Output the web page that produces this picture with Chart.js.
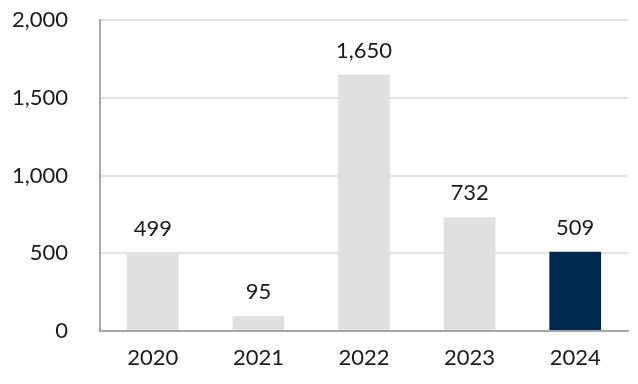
<!DOCTYPE html>
<html>
<head>
<meta charset="utf-8">
<script src="https://cdn.jsdelivr.net/npm/chart.js@4"></script>
<style>
html,body{margin:0;padding:0;background:#fff;}
#wrap{width:638px;height:384px;position:relative;}
</style>
</head>
<body>
<div id="wrap"><canvas id="c" width="638" height="384"></canvas></div>
<script>
const categories = ["2020", "2021", "2022", "2023", "2024"];
const values = [499, 95, 1650, 732, 509];
const barColors = ["#e0e0e0", "#e0e0e0", "#e0e0e0", "#e0e0e0", "#002a4d"];
const yTicks = [0, 500, 1000, 1500, 2000];

const FONT = "Lato, 'Noto Sans', sans-serif";

const labelPlugin = {
  id: 'valueLabels',
  afterDatasetsDraw(chart) {
    const ctx = chart.ctx;
    const meta = chart.getDatasetMeta(0);
    ctx.save();
    ctx.font = "22px " + FONT;
    ctx.fillStyle = "#1a1a1a";
    ctx.textAlign = "center";
    ctx.textBaseline = "middle";
    meta.data.forEach((bar, i) => {
      const v = chart.data.datasets[0].data[i];
      ctx.fillText(v.toLocaleString('en-US'), bar.x, bar.y - 24);
    });
    ctx.restore();
  }
};

new Chart(document.getElementById('c'), {
  type: 'bar',
  data: {
    labels: categories,
    datasets: [{
      data: values,
      backgroundColor: barColors,
      borderWidth: 0,
      categoryPercentage: 1,
      barPercentage: 0.49
    }]
  },
  options: {
    responsive: false,
    animation: false,
    devicePixelRatio: 1,
    layout: { padding: { left: 0, right: 10, top: 20, bottom: 0 } },
    plugins: { legend: { display: false }, tooltip: { enabled: false } },
    scales: {
      x: {
        afterFit(axis) { axis.height = 53; axis.paddingLeft = 0; axis.paddingRight = 0; },
        grid: { display: false, drawTicks: false },
        border: { display: true, color: "#a6a6a6", width: 2 },
        ticks: { color: "#1a1a1a", font: { size: 22, family: FONT }, padding: 14, maxRotation: 0 }
      },
      y: {
        min: yTicks[0],
        max: yTicks[yTicks.length - 1],
        afterFit(axis) { axis.width = 100; axis.paddingTop = 0; axis.paddingBottom = 0; },
        afterBuildTicks(axis) { axis.ticks = yTicks.map(v => ({ value: v })); },
        grid: { color: "#e3e3e3", lineWidth: 2, drawTicks: false },
        border: { display: true, color: "#a6a6a6", width: 2 },
        ticks: {
          color: "#1a1a1a",
          font: { size: 22, family: FONT },
          padding: 32,
          callback: v => v.toLocaleString('en-US')
        }
      }
    }
  },
  plugins: [labelPlugin]
});
</script>
</body>
</html>
